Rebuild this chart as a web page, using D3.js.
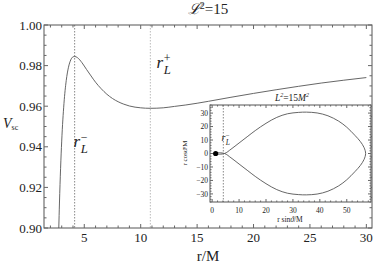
<!DOCTYPE html>
<html lang="en">
<head>
<meta charset="UTF-8">
<title>V_sc, L^2=15</title>
<style>
    body, html {
        margin: 0;
        background: #fff;
    }
    svg text {
        font-family: "Liberation Serif", "DejaVu Serif", serif;
        fill: #222;
    }
    .frame {
        fill: none;
        stroke: #555;
        stroke-width: 1;
    }
    .tick {
        stroke: #666;
        stroke-width: 1;
    }
    .curve {
        fill: none;
        stroke: #555;
        stroke-width: 0.9;
    }
    .guide {
        stroke: #999;
        stroke-width: 1;
        stroke-dasharray: 1.5, 1.5;
    }
</style>
</head>
<body>
<div id="chart"></div>
<script src="https://d3js.org/d3.v7.min.js"></script>
<script>
    // main panel: effective potential, L^2 = 15
    const rValues = [2.74, 2.8, 2.9, 3.0, 3.2, 3.4, 3.6, 3.8, 4.0, 4.146, 4.4, 4.8, 5.2, 5.6, 6, 6.5, 7, 7.5, 8, 8.5, 9, 10, 10.854, 12, 13, 14, 16, 18, 20, 22, 24, 26, 28, 30];
    const vValues = [0.8997, 0.9123, 0.9294, 0.9428, 0.9614, 0.9726, 0.9792, 0.9828, 0.9843, 0.9845, 0.9839, 0.9814, 0.9781, 0.9749, 0.9718, 0.9686, 0.9659, 0.9638, 0.9622, 0.9610, 0.9601, 0.9592, 0.95896, 0.9592, 0.9599, 0.9606, 0.9624, 0.9644, 0.9663, 0.9681, 0.9698, 0.9714, 0.9728, 0.9741];
    const xTicks = [5, 10, 15, 20, 25, 30];
    const yTicks = [0.90, 0.92, 0.94, 0.96, 0.98, 1.00];
    const rLminus = 4.146;
    const rLplus = 10.854;

    // inset: orbit in the (r sin, r cos) plane
    const orbit = [
        [1.5, -0.6], [4.6, 0], [7, 3.2], [10, 7.8], [13, 12.4], [16, 17], [20, 22.4], [24, 26.8], [28, 29.5],
        [32, 30.5], [35, 30.7], [39, 30.1], [43, 28], [47, 24], [50, 19.5], [53, 13.5], [55, 9],
        [56.4, 4.5], [57, 0], [56.4, -4.5], [55, -9], [53, -13.5], [50, -19.5], [47, -24], [43, -28],
        [39, -30.1], [35, -30.7], [32, -30.5], [28, -29.5], [24, -26.8], [20, -22.4], [16, -17],
        [13, -12.4], [10, -7.8], [7, -3.2], [4.6, 0], [1.5, 0.6]
    ];
    const horizon = [[1.3, 0]];
    const insetXTicks = [0, 10, 20, 30, 40, 50];
    const insetYTicks = [-30, -20, -10, 0, 10, 20, 30];

    const width = 374, height = 264;
    const svg = d3.select("#chart").append("svg")
        .attr("width", width)
        .attr("height", height);

    const x = d3.scaleLinear().domain([1.43, 30.5]).range([44, 372]);
    const y = d3.scaleLinear().domain([0.9, 1.0]).range([228, 25]);

    svg.append("defs").append("clipPath").attr("id", "clip")
        .append("rect")
        .attr("x", 44).attr("y", 25)
        .attr("width", 328).attr("height", 203);

    // dotted guides at r_L
    [rLminus, rLplus].forEach((r, i) => {
        svg.append("line")
            .attr("class", "guide")
            .attr("x1", x(r)).attr("x2", x(r))
            .attr("y1", y(1.0)).attr("y2", y(0.9))
            .style("stroke", i === 0 ? "#888" : "#bbb");
    });

    const line = d3.line()
        .x((d, i) => x(rValues[i]))
        .y(d => y(d))
        .curve(d3.curveMonotoneX);

    svg.append("path")
        .attr("class", "curve")
        .attr("clip-path", "url(#clip)")
        .attr("d", line(vValues));

    // frame + ticks (inside, all four sides)
    function drawFrame(g, xs, ys, opt) {
        const [x0, x1] = xs.range();
        const [y0, y1] = ys.range();
        g.append("rect")
            .attr("class", "frame")
            .attr("x", x0).attr("y", y1)
            .attr("width", x1 - x0).attr("height", y0 - y1);

        const xd = xs.domain(), yd = ys.domain();
        const xMinor = d3.range(Math.ceil(xd[0] / opt.xMinor) * opt.xMinor, xd[1] + 1e-9, opt.xMinor);
        const yMinor = d3.range(Math.ceil(yd[0] / opt.yMinor - 1e-6) * opt.yMinor, yd[1] + 1e-9, opt.yMinor);

        xMinor.forEach(v => {
            const major = opt.xMajor.some(t => Math.abs(t - v) < 1e-6);
            const len = major ? opt.majorLen : opt.minorLen;
            g.append("line").attr("class", "tick")
                .attr("x1", xs(v)).attr("x2", xs(v)).attr("y1", y0).attr("y2", y0 - len);
            g.append("line").attr("class", "tick")
                .attr("x1", xs(v)).attr("x2", xs(v)).attr("y1", y1).attr("y2", y1 + len);
        });
        yMinor.forEach(v => {
            const major = opt.yMajor.some(t => Math.abs(t - v) < 1e-6);
            const len = major ? opt.majorLen : opt.minorLen;
            g.append("line").attr("class", "tick")
                .attr("x1", x0).attr("x2", x0 + len).attr("y1", ys(v)).attr("y2", ys(v));
            g.append("line").attr("class", "tick")
                .attr("x1", x1).attr("x2", x1 - len).attr("y1", ys(v)).attr("y2", ys(v));
        });
    }

    drawFrame(svg, x, y, { xMajor: xTicks, yMajor: yTicks, xMinor: 1, yMinor: 0.005, majorLen: 4, minorLen: 2.5 });

    svg.selectAll(".xlab")
        .data(xTicks).enter().append("text")
        .attr("x", d => x(d)).attr("y", 242)
        .attr("text-anchor", "middle")
        .style("font-size", "13px")
        .text(d => d);

    svg.selectAll(".ylab")
        .data(yTicks).enter().append("text")
        .attr("x", 42).attr("y", d => y(d) + 4.5)
        .attr("text-anchor", "end")
        .style("font-size", "13px")
        .text(d => d.toFixed(2));

    // titles and axis labels
    svg.append("text")
        .attr("x", 208).attr("y", 14)
        .attr("text-anchor", "middle")
        .style("font-size", "15px")
        .html('<tspan font-style="italic">ℒ</tspan><tspan dy="-5" style="font-size:10px">2</tspan><tspan dy="5">=15</tspan>');

    svg.append("text")
        .attr("x", 208).attr("y", 261)
        .attr("text-anchor", "middle")
        .style("font-size", "15px")
        .text("r/M");

    svg.append("text")
        .attr("x", 3).attr("y", 128)
        .style("font-size", "14px")
        .html('<tspan font-style="italic">V</tspan><tspan dy="2" style="font-size:8px">sc</tspan>');

    // r_L^± as one text: r, subscript L, superscript sign stacked above L
    function rLabel(g, px, py, sign, size) {
        const sub = size * 0.75, sup = size * 0.7;
        g.append("text")
            .attr("x", px).attr("y", py)
            .style("font-size", size + "px")
            .html(`<tspan font-style="italic">r</tspan>` +
                `<tspan font-style="italic" dx="${size * 0.03}" dy="${size * 0.36}" style="font-size:${sub}px">L</tspan>` +
                `<tspan dx="${-sub * 0.55}" dy="${-size * 0.72}" style="font-size:${sup}px">${sign}</tspan>`);
    }
    rLabel(svg, x(11.4), y(0.9788), "+", 17);
    rLabel(svg, x(4.05), y(0.9398), "\u2212", 17);

    // inset
    const xi = d3.scaleLinear().domain([-0.8, 59]).range([210, 371]);
    const yi = d3.scaleLinear().domain([-36, 36]).range([202, 105]);
    const inset = svg.append("g");

    inset.append("rect")
        .attr("x", 210).attr("y", 105)
        .attr("width", 161).attr("height", 97)
        .style("fill", "#fff");

    inset.append("line")
        .attr("class", "guide")
        .attr("x1", xi(rLminus)).attr("x2", xi(rLminus))
        .attr("y1", yi(36)).attr("y2", yi(-36))
        .style("stroke", "#888");

    inset.append("path")
        .attr("class", "curve")
        .attr("d", d3.line().x(d => xi(d[0])).y(d => yi(d[1])).curve(d3.curveCatmullRom)(orbit));

    inset.selectAll(".hz")
        .data(horizon).enter().append("circle")
        .attr("cx", d => xi(d[0])).attr("cy", d => yi(d[1]))
        .attr("r", 2.6)
        .style("fill", "#000");

    drawFrame(inset, xi, yi, { xMajor: insetXTicks, yMajor: insetYTicks, xMinor: 2, yMinor: 2, majorLen: 3, minorLen: 1.5 });

    inset.selectAll(".ixl")
        .data(insetXTicks).enter().append("text")
        .attr("x", d => xi(d)).attr("y", 213)
        .attr("text-anchor", "middle")
        .style("font-size", "7.5px")
        .text(d => d);

    inset.selectAll(".iyl")
        .data(insetYTicks).enter().append("text")
        .attr("x", 208).attr("y", d => yi(d) + 2.6)
        .attr("text-anchor", "end")
        .style("font-size", "7.5px")
        .text(d => d < 0 ? "\u2212" + (-d) : d);

    inset.append("text")
        .attr("x", 290).attr("y", 222)
        .attr("text-anchor", "middle")
        .style("font-size", "7.5px")
        .html('r sin<tspan font-style="italic">ϑ</tspan>/M');

    inset.append("text")
        .attr("transform", "translate(187,153) rotate(-90)")
        .attr("text-anchor", "middle")
        .style("font-size", "7px")
        .html('r cos<tspan font-style="italic">ϑ</tspan>/M');

    inset.append("text")
        .attr("x", 292).attr("y", 101)
        .attr("text-anchor", "middle")
        .style("font-size", "9.5px")
        .style("font-style", "italic")
        .html('L<tspan dy="-4" style="font-size:6px">2</tspan><tspan dy="4" font-style="normal">=15</tspan>M<tspan dy="-4" style="font-size:6px">2</tspan>');

    rLabel(inset, xi(3.5), yi(9), "\u2212", 10);
</script>
</body>
</html>
